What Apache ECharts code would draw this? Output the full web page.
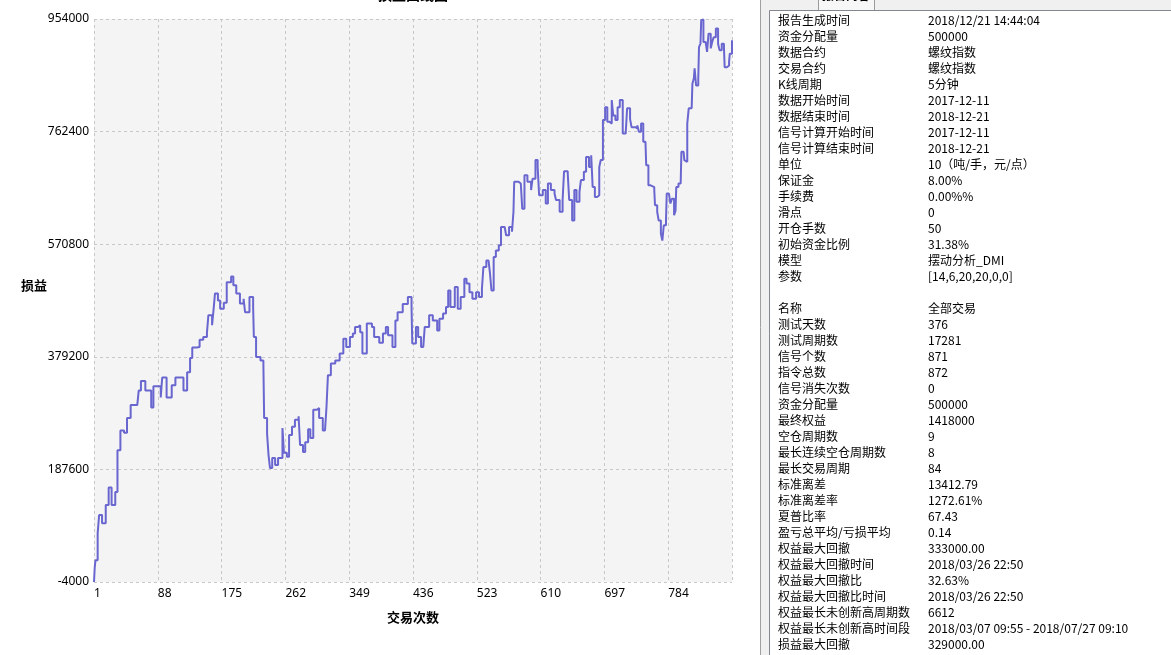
<!DOCTYPE html>
<html>
<head>
<meta charset="utf-8">
<script src="https://cdn.jsdelivr.net/npm/echarts@6/dist/echarts.min.js"></script>
<style>
html,body{margin:0;padding:0;background:#fff;}
#c{width:1171px;height:655px;}
</style>
</head>
<body>
<div id="c"></div>
<script>
// ---- data ----
const chartTitle = '损益曲线图';
const xName = '交易次数';
const yName = '损益';
const xMin = 1, xMax = 871, xStep = 87;
const yMin = -4000, yMax = 954000, yStep = 191600;

const trades = [1,2,3,6,8,12,17,21,25,30,33,37,42,46,51,60,62,65,71,79,82,92,94,100,107,112,123,128,132,
135,141,145,150,155,157,162,164,166,170,173,178,182,188,191,195,200,205,207,213,218,219,222,228,232,233,237,239,241,244,248,252,258,260,264,267,271,275,280,282,286,289,293,296,300,305,308,313,316,318,320,324,
330,336,341,345,350,354,357,361,364,367,373,380,383,390,395,399,402,408,412,415,422,429,434,435,440,443,447,450,452,458,463,469,472,477,481,484,487,493,497,501,506,509,513,517,522,526,530,532,536,539,541,543,546,549,553,556,561,563,567,571,573,574,580,583,585,588,592,597,599,603,606,608,613,617,620,624,629,631,636,640,642,647,649,653,656,659,663,665,669,672,676,679,681,684,687,690,692,695,698,701,704,707,709,712,715,718,722,726,728,732,734,739,742,744,747,750,753,754,757,760,765,766,769,771,774,776,778,781,782,785,787,789,792,794,795,798,801,802,805,806,808,810,812,816,817,819,820,822,825,826,828,829,831,832,835,837,839,842,844,846,849,852,854,857,860,861,864,867,868,871];

const profit = [-4000,21000,33000,79000,110000,96000,127000,157000,127000,149000,220000,254000,250000,275000,297000,300000,322000,338000,322000,293000,329000,310000,344000,310000,331000,344000,322000,353000,377000,
395000,396000,408000,413000,420000,450000,433000,459000,487000,475000,461000,471000,506000,516000,501000,487000,470000,478000,455000,481000,464000,413000,379000,373000,365000,275000,249000,212000,190000,207000,195000,207000,258000,216000,209000,246000,260000,272000,278000,229000,217000,234000,256000,241000,289000,292000,275000,254000,251000,293000,348000,368000,
373000,385000,410000,396000,413000,419000,430000,433000,421000,385000,436000,430000,413000,403000,419000,430000,416000,396000,441000,455000,469000,481000,464000,402000,430000,413000,396000,393000,430000,450000,441000,424000,444000,453000,464000,492000,464000,498000,461000,481000,512000,504000,489000,478000,489000,481000,495000,532000,543000,543000,521000,492000,549000,560000,569000,600000,603000,586000,600000,592000,626000,677000,674000,671000,631000,688000,677000,663000,682000,714000,702000,654000,663000,640000,674000,663000,657000,646000,626000,646000,695000,691000,646000,611000,663000,643000,660000,680000,694000,719000,702000,722000,668000,651000,654000,702000,714000,782000,804000,779000,776000,816000,790000,782000,804000,816000,759000,762000,802000,784000,770000,768000,773000,762000,776000,745000,742000,705000,671000,668000,663000,637000,626000,611000,589000,577000,603000,611000,657000,660000,640000,648000,620000,628000,668000,674000,677000,728000,731000,714000,711000,776000,802000,804000,844000,853000,870000,841000,853000,906000,912000,952000,953000,915000,915000,898000,929000,904000,915000,923000,938000,912000,901000,912000,906000,872000,875000,881000,895000,918000];

const infoLabels = ['报告生成时间','资金分配量','数据合约','交易合约','K线周期','数据开始时间','数据结束时间','信号计算开始时间','信号计算结束时间','单位','保证金','手续费','滑点','开仓手数','初始资金比例','模型','参数','',
'名称','测试天数','测试周期数','信号个数','指令总数','信号消失次数','资金分配量','最终权益','空仓周期数','最长连续空仓周期数','最长交易周期','标准离差','标准离差率','夏普比率','盈亏总平均/亏损平均','权益最大回撤','权益最大回撤时间','权益最大回撤比','权益最大回撤比时间','权益最长未创新高周期数','权益最长未创新高时间段','损益最大回撤'];
const infoValues = ['2018/12/21 14:44:04','500000','螺纹指数','螺纹指数','5分钟','2017-12-11','2018-12-21','2017-12-11','2018-12-21','10（吨/手，元/点）','8.00%','0.00%%','0','50','31.38%','摆动分析_DMI','[14,6,20,20,0,0]','',
'全部交易','376','17281','871','872','0','500000','1418000','9','8','84','13412.79','1272.61%','67.43','0.14','333000.00','2018/03/26 22:50','32.63%','2018/03/26 22:50','6612','2018/03/07 09:55 - 2018/07/27 09:10','329000.00'];
const tabLabel = '报告内容';

// ---- build ----
const seriesData = trades.map((t, i) => [t, profit[i]]);
const chart = echarts.init(document.getElementById('c'), null, {renderer: 'canvas'});

const graphics = [];
// right panel background
graphics.push({type:'rect', shape:{x:760, y:0, width:411, height:655}, style:{fill:'#f0f0f0'}, silent:true, z:1});
graphics.push({type:'line', shape:{x1:760.5, y1:0, x2:760.5, y2:655}, style:{stroke:'#a0a0a0', lineWidth:1}, z:2});
graphics.push({type:'rect', shape:{x:818.5, y:-6.5, width:56, height:17}, style:{fill:'#f7f7f7', stroke:'#9a9a9a', lineWidth:1}, z:2});
graphics.push({type:'text', style:{x:846, y:-4.5, text:tabLabel, textAlign:'center', textVerticalAlign:'middle', font:'bold 12px "Noto Sans CJK SC"', fill:'#000'}, z:3});
graphics.push({type:'rect', shape:{x:769.5, y:10.5, width:420, height:660}, style:{fill:'#ffffff', stroke:'#828790', lineWidth:1}, z:4});
infoLabels.forEach((lab, i) => {
  const y = 20 + i * 16;
  if (lab) graphics.push({type:'text', style:{x:778, y:y, text:lab, textVerticalAlign:'middle', font:'12px "Noto Sans CJK SC"', fill:'#000'}, z:5});
  if (infoValues[i]) graphics.push({type:'text', style:{x:928, y:y, text:infoValues[i], textVerticalAlign:'middle', font:'12px "Noto Sans CJK SC"', fill:'#000'}, z:5});
});
// chart title (cut at top) and axis names
graphics.push({type:'text', style:{x:413, y:-5, text:chartTitle, textAlign:'center', textVerticalAlign:'middle', font:'bold 14px "Noto Sans CJK SC"', fill:'#000'}, z:4});
graphics.push({type:'text', style:{x:34, y:285, text:yName, textAlign:'center', textVerticalAlign:'middle', font:'bold 13px "Noto Sans CJK SC"', fill:'#000'}, z:4});

chart.setOption({
  animation: false,
  backgroundColor: '#ffffff',
  grid: {left: 94, right: 439, top: 19, bottom: 73, show: true, backgroundColor: '#f4f4f4', borderWidth: 0},
  xAxis: {
    type: 'value', min: xMin, max: xMax, interval: xStep,
    name: xName, nameLocation: 'middle', nameGap: 29,
    nameTextStyle: {fontFamily: 'Noto Sans CJK SC', fontWeight: 'bold', fontSize: 13, color: '#000'},
    axisLine: {show: false}, axisTick: {show: false},
    axisLabel: {color: '#000', fontFamily: 'Noto Sans', fontSize: 12, margin: 6, align: 'left',
      formatter: v => (v >= xMax ? '' : String(v))},
    splitLine: {show: true, lineStyle: {color: '#c8c8c8', type: [3, 3], width: 1}}
  },
  yAxis: {
    type: 'value', min: yMin, max: yMax, interval: yStep,
    axisLine: {show: false}, axisTick: {show: false},
    axisLabel: {color: '#000', fontFamily: 'Noto Sans', fontSize: 12, margin: 5, formatter: v => String(v)},
    splitLine: {show: true, lineStyle: {color: '#c8c8c8', type: [3, 3], width: 1}}
  },
  graphic: graphics,
  series: [{
    type: 'line', data: seriesData, showSymbol: false, symbol: 'none', step: 'end',
    lineStyle: {color: '#6966d0', width: 2}, itemStyle: {color: '#6966d0'},
    z: 3
  }]
});
</script>
</body>
</html>
